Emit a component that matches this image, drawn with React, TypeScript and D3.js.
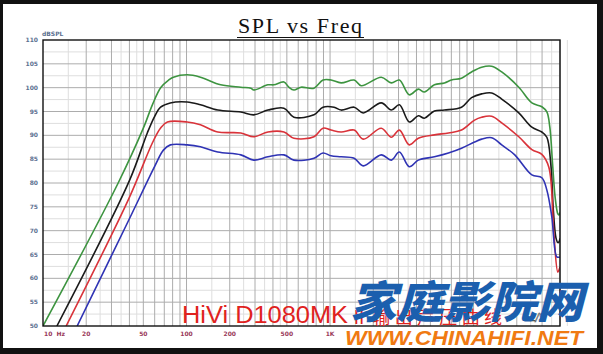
import React from "react";
import * as d3 from "d3";

// measured SPL curves, [Hz, dB]
const greenCurve: [number, number][] = [
  [10, 50], [33.4, 80], [50, 91.5], [58, 96.5], [66, 100], [75, 101.6], [81, 102.2], [101, 102.7],
  [125, 102.2], [173, 100.6], [239, 100.1], [281, 99.9], [294, 99.5], [369, 100.6], [406, 100.6],
  [477, 101.2], [516, 100.1], [560, 99.5], [627, 100.1], [773, 99.9], [893, 101.6], [1016, 101.6],
  [1194, 101.0], [1472, 101.6], [1648, 100.4], [2274, 102.2], [2672, 101.0], [3040, 101.6],
  [3566, 98.5], [4121, 99.7], [4539, 99.1], [5333, 100.6], [6266, 101.0], [7015, 101.6],
  [8240, 102.0], [9680, 103.3], [11380, 104.3], [13360, 104.5], [15700, 103.3], [20650, 100.1],
  [25470, 96.8], [29900, 96.0], [32400, 94.9], [33980, 91.7], [35500, 84], [37000, 77],
  [38640, 73.5], [39270, 73.3], [40000, 73.8],
];
const blackCurve: [number, number][] = [
  [12.5, 50], [40, 80.5], [53.3, 90.5], [60, 94], [66, 95.9], [77, 96.8], [101, 97.0], [125, 96.4],
  [165, 95.3], [239, 94.9], [294, 94.3], [369, 95.3], [477, 95.7], [560, 93.8], [773, 94.3],
  [893, 95.9], [1067, 95.9], [1194, 95.3], [1472, 95.9], [1702, 94.7], [2274, 96.8], [2672, 95.3],
  [3040, 96.4], [3566, 92.8], [4121, 94.1], [4539, 93.6], [5333, 95.1], [6266, 95.3], [8240, 95.9],
  [9680, 97.9], [11380, 98.7], [13360, 98.9], [15700, 97.6], [20650, 94.7], [25470, 91.7],
  [29900, 90.7], [32400, 89.6], [34500, 84], [36000, 74], [37500, 68.5], [38640, 67.5],
  [39270, 67.6], [40000, 68.4],
];
const redCurve: [number, number][] = [
  [14.5, 50], [40, 77], [58, 88.5], [65.8, 91.5], [73.6, 92.8], [101, 92.8], [125, 92.2],
  [165, 90.7], [239, 90.5], [294, 89.7], [369, 90.7], [477, 90.7], [560, 89.4], [773, 89.7],
  [893, 91.5], [1016, 91.1], [1194, 90.7], [1472, 91.1], [1702, 89.2], [2274, 91.5], [2672, 89.6],
  [3040, 91.1], [3566, 88.0], [4121, 89.4], [5333, 90.1], [6681, 90.5], [8240, 91.1],
  [10160, 93.2], [11380, 93.8], [13360, 94.0], [15700, 92.6], [20650, 89.7], [25470, 87.0],
  [29900, 86.0], [33450, 83.3], [36230, 69.5], [38640, 61.3], [40000, 62.4],
];
const blueCurve: [number, number][] = [
  [17.3, 50], [40, 72.5], [60, 83.5], [69, 86.9], [77.2, 88.0], [101, 88.0], [125, 87.6],
  [165, 86.5], [239, 85.9], [294, 84.8], [369, 85.5], [477, 85.9], [560, 84.8], [773, 85.2],
  [893, 86.3], [1016, 85.7], [1194, 85.5], [1472, 85.2], [1702, 83.6], [2274, 85.9], [2672, 84.8],
  [3040, 86.5], [3566, 83.4], [4121, 84.8], [5333, 85.5], [6681, 86.3], [8240, 87.3],
  [10160, 88.6], [11380, 89.2], [13360, 89.5], [15700, 88.0], [19360, 85.9], [25470, 81.7],
  [29900, 81.1], [32400, 78.5], [35080, 72.9], [38020, 64.5], [39900, 64.5],
];

const yTicks = [50, 55, 60, 65, 70, 75, 80, 85, 90, 95, 100, 105, 110];
// only the frequency labels not hidden behind the watermark
const xTicks = [10, 20, 50, 100, 200, 500, 1000];
const xTickLabels = ["10  Hz", "20", "50", "100", "200", "500", "1K"];

const series = [
  { data: greenCurve, color: "#3d9440" },
  { data: blackCurve, color: "#1a1a1a" },
  { data: redCurve, color: "#d9333a" },
  { data: blueCurve, color: "#2f33b4" },
];

export default function App() {
  const W = 603;
  const H = 354;
  const left = 43, right = 560, top = 40, bottom = 326;

  const x = d3.scaleLog().domain([10, 40000]).range([left, right]);
  const y = d3.scaleLinear().domain([50, 110]).range([bottom, top]);

  // grid lines
  const majorX: number[] = [];
  const minorX: number[] = [];
  for (let dec = 10; dec <= 10000; dec *= 10) {
    for (let m = 1; m <= 9; m++) if (dec * m <= 40000 && !(dec === 10 && m === 1)) majorX.push(dec * m);
    [1.5, 2.5, 3.5, 4.5].forEach((m) => minorX.push(dec * m));
  }
  const minorY = d3.range(52.5, 110, 5);

  const line = d3
    .line<[number, number]>()
    .x((d) => x(d[0]))
    .y((d) => y(d[1]))
    .curve(d3.curveCatmullRom.alpha(0.5));

  return (
    <svg width={W} height={H} style={{ position: "fixed", left: 0, top: 0 }}>
      <rect x={0} y={0} width={W} height={H} fill="#111" />
      <rect x={3} y={4} width={594} height={344} fill="#fff" />

      <text x={300} y={33} textAnchor="middle" fontFamily="Liberation Serif" fontSize={22} textLength={124} fill="#111">
        SPL vs Freq
      </text>
      <line x1={237} x2={364} y1={37.5} y2={37.5} stroke="#111" strokeWidth={1.2} />

      <defs>
        <clipPath id="plot">
          <rect x={left} y={top} width={right - left} height={bottom - top} />
        </clipPath>
      </defs>

      {/* grid */}
      <g>
        {minorX.map((f) => (
          <line key={"mx" + f} x1={x(f)} x2={x(f)} y1={top} y2={bottom} stroke="#dedede" strokeWidth={1} />
        ))}
        {minorY.map((v) => (
          <line key={"my" + v} x1={left} x2={right} y1={y(v)} y2={y(v)} stroke="#dedede" strokeWidth={1} />
        ))}
        {majorX.map((f) => (
          <line key={"Mx" + f} x1={x(f)} x2={x(f)} y1={top} y2={bottom} stroke="#acacac" strokeWidth={1} />
        ))}
        {yTicks.slice(1, -1).map((v) => (
          <line key={"My" + v} x1={left} x2={right} y1={y(v)} y2={y(v)} stroke="#acacac" strokeWidth={1} />
        ))}
      </g>

      {/* curves */}
      <g clipPath="url(#plot)">
        {series.map((s, i) => (
          <path key={i} d={line(s.data) || ""} fill="none" stroke={s.color} strokeWidth={1.6} strokeLinejoin="round" />
        ))}
      </g>

      <rect x={left} y={top} width={right - left} height={bottom - top} fill="none" stroke="#111" strokeWidth={1.4} />

      {/* axes labels */}
      <text x={42} y={36} fontFamily="DejaVu Sans" fontWeight="bold" fontSize={6} fill="#5d7191">
        dBSPL
      </text>
      {yTicks.map((v) => (
        <text key={v} x={38} y={y(v) + 2} textAnchor="end" fontFamily="DejaVu Sans" fontWeight="bold" fontSize={6} fill="#5d7191">
          {v}
        </text>
      ))}
      {xTicks.map((f, i) => (
        <text
          key={f}
          x={x(f) + (i === 0 ? 1 : 0)}
          y={336}
          textAnchor={i === 0 ? "start" : "middle"}
          fontFamily="DejaVu Sans"
          fontWeight="bold"
          fontSize={6}
          fill="#9a3a5a"
          style={{ whiteSpace: "pre" }}
        >
          {xTickLabels[i]}
        </text>
      ))}

      {/* watermarks */}
      <text x={182} y={323} fontFamily="Liberation Sans" fontSize={23} fill="#e0221e" textLength={166} lengthAdjust="spacingAndGlyphs">
        HiVi D1080MK
      </text>
      <text x={350} y={324} fontFamily="Noto Sans CJK SC" fontSize={18} fill="#e0221e" textLength={152}>
        Ⅱ输出声压曲线
      </text>
      <text x={530} y={321} fontFamily="DejaVu Sans" fontStyle="italic" fontSize={10} fill="#fff" stroke="#333" strokeWidth={0.5}>
        L/S
      </text>
      <text
        x={350}
        y={318}
        fontFamily="Noto Sans CJK SC"
        fontWeight={900}
        fontStyle="italic"
        fontSize={44}
        fill="#1b5fae"
        textLength={233}
        lengthAdjust="spacingAndGlyphs"
      >
        家庭影院网
      </text>
      <text
        x={345}
        y={345}
        fontFamily="Liberation Sans"
        fontWeight="bold"
        fontStyle="italic"
        fontSize={20}
        fill="#f07a12"
        textLength={238}
        lengthAdjust="spacingAndGlyphs"
      >
        WWW.CHINAHIFI.NET
      </text>
    </svg>
  );
}
